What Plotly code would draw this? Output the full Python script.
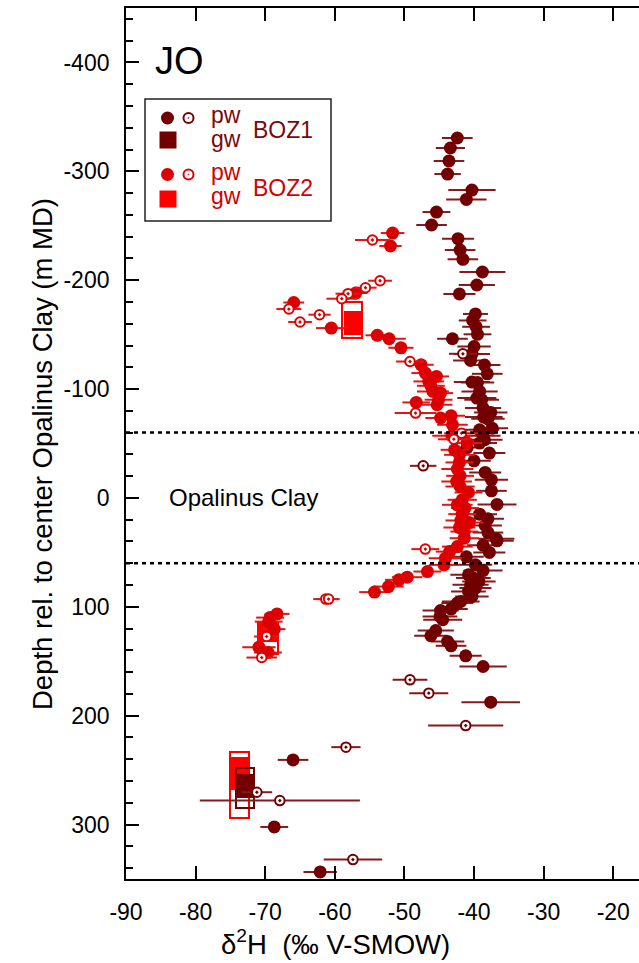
import plotly.graph_objects as go

# ---------------- data ----------------
# BOZ1 porewater (filled)
boz1_pw_x = [-42.4, -43.4, -43.6, -43.8, -40.3, -41.1, -45.4, -46.1, -42.3, -42.0, -41.6, -38.8, -39.6, -42.1,
             -39.8, -40.2, -39.7, -39.5, -43.1, -40.0, -40.3, -40.5, -38.5, -38.1, -40.3, -39.5, -39.2, -39.6,
             -38.9, -38.7, -37.6, -38.6, -38.0, -37.4, -39.2, -38.7, -38.5, -39.2, -41.0, -37.8, -40.0, -38.4,
             -37.5, -37.5, -36.7, -39.2, -38.0, -38.4, -38.0, -36.8, -38.7, -36.7, -37.8, -41.1, -39.8, -38.7,
             -40.8, -40.1, -39.3, -40.5, -39.8, -40.8, -40.3, -41.9, -42.4, -43.3, -44.8, -44.9, -44.5, -45.5,
             -46.2, -43.8, -43.3, -41.2, -38.7, -37.6, -66.0, -68.7, -62.1]
boz1_pw_d = [-330.6, -321.4, -309.5, -297.5, -282.8, -274.2, -262.6, -250.7, -238.1, -227.7, -219.2, -207.5, -195.6,
             -187.4, -169.0, -163.0, -157.2, -150.3, -146.2, -139.1, -132.1, -126.3, -122.0, -114.0, -106.4, -106.0,
             -97.8, -91.7, -90.2, -82.5, -78.5, -74.3, -72.7, -64.1, -62.6, -57.1, -53.4, -50.4, -46.3, -41.2, -34.1,
             -23.4, -16.6, -6.5, 6.0, 14.9, 19.2, 25.3, 31.8, 37.6, 43.5, 39.4, 50.0, 54.1, 61.4, 66.7, 70.6, 73.6,
             76.7, 79.8, 82.8, 85.9, 90.5, 95.1, 96.6, 102.1, 103.4, 108.9, 111.9, 121.8, 126.6, 131.8, 135.8, 145.0,
             154.8, 187.6, 240.6, 302.2, 343.5]
boz1_pw_err = [2.2, 2.1, 2.2, 1.9, 3.4, 2.9, 2.0, 2.2, 2.3, 2.2, 2.2, 3.3, 2.6, 2.3, 1.8, 2.0, 2.0, 2.0, 2.2, 2.4,
               2.6, 2.5, 2.3, 2.2, 2.6, 2.4, 2.6, 2.8, 2.5, 2.6, 2.4, 2.7, 2.4, 2.3, 2.8, 2.5, 2.6, 2.5, 2.4, 2.3,
               2.4, 2.3, 2.4, 2.2, 2.8, 2.5, 2.3, 2.4, 2.2, 2.6, 2.3, 2.4, 2.3, 2.5, 2.4, 2.8, 2.6, 2.5, 2.4, 2.6,
               2.3, 2.5, 2.4, 2.7, 2.3, 2.4, 2.6, 2.5, 2.8, 2.6, 2.4, 2.4, 2.2, 2.3, 3.4, 4.2, 2.2, 2.0, 2.4]

# BOZ1 porewater (open symbols)
boz1_pwo_x = [-41.6, -47.3, -49.2, -46.5, -41.2, -58.4, -71.2, -67.9, -57.4]
boz1_pwo_d = [-132.4, -29.5, 167.1, 179.3, 209.1, 228.9, 270.3, 278.0, 332.2]
boz1_pwo_err = [2.0, 1.9, 2.5, 2.8, 5.4, 2.1, 2.2, 11.5, 4.2]

# BOZ2 porewater (filled)
boz2_pw_x = [-51.7, -52.0, -57.0, -65.9, -60.5, -53.9, -52.2, -50.5, -47.6, -47.0, -45.4, -46.5, -46.2, -45.9,
             -44.8, -45.1, -45.3, -48.3, -44.8, -43.3, -43.1, -43.2, -41.0, -42.8, -42.1, -42.1, -42.4, -42.0,
             -42.5, -42.0, -40.8, -41.7, -42.4, -41.3, -41.7, -41.9, -40.7, -42.1, -41.4, -41.4, -42.4, -43.5,
             -44.1, -44.3, -46.7, -49.6, -50.8, -52.3, -54.3, -68.3, -69.3, -69.5, -68.7, -70.9, -69.6]
boz2_pw_d = [-243.3, -231.4, -188.2, -179.5, -156.0, -149.4, -146.2, -137.9, -122.3, -114.7, -111.6, -107.0, -103.0,
             -97.8, -96.3, -90.2, -85.6, -87.7, -73.4, -75.5, -67.2, -57.1, -50.4, -44.2, -39.6, -32.6, -26.5,
             -20.3, -15.1, -10.5, -5.0, 1.7, 6.3, 9.3, 14.9, 20.7, 22.6, 27.2, 30.9, 37.0, 44.7, 49.3, 55.3, 61.5,
             67.6, 72.8, 75.2, 81.4, 86.5, 106.5, 109.9, 113.6, 120.5, 137.1, 142.0]
boz2_pw_err = [1.7, 1.6, 1.7, 1.5, 2.2, 1.7, 2.4, 1.8, 1.8, 2.0, 1.8, 2.2, 2.0, 2.3, 1.8, 2.0, 2.2, 2.0, 2.2, 2.0,
               2.2, 2.8, 2.2, 2.0, 2.2, 2.0, 2.3, 2.0, 2.2, 2.1, 2.0, 2.1, 2.2, 2.0, 2.0, 2.2, 2.0, 2.3, 2.0, 2.1,
               2.2, 2.0, 2.4, 2.2, 2.0, 2.2, 2.0, 2.2, 2.2, 1.8, 2.0, 2.0, 1.6, 2.4, 2.0]

# BOZ2 porewater (open symbols)
boz2_pwo_x = [-54.6, -53.5, -55.6, -58.1, -59.0, -66.6, -62.2, -65.0, -49.2, -48.4, -41.8, -42.9, -47.0, -61.3,
              -60.9, -69.8, -70.5]
boz2_pwo_d = [-236.9, -199.5, -193.1, -187.6, -183.0, -173.5, -168.3, -161.6, -125.3, -77.9, -59.5, -54.0, 47.0,
              92.9, 92.9, 127.3, 146.6]
boz2_pwo_err = [2.5, 1.7, 1.6, 1.8, 2.2, 1.8, 1.6, 1.7, 2.0, 3.0, 2.5, 2.3, 2.0, 1.8, 1.6, 1.8, 2.2]

# groundwater samples: x value, depth interval (outline) and depth interval (filled)
boz2_gw_x = [-57.5, -69.6, -73.7]
boz2_gw_top_o = [-180.2, 113.5, 233.4]
boz2_gw_bot_o = [-147.1, 142.9, 294.0]
boz2_gw_top_f = [-171.9, 114.5, 238.0]
boz2_gw_bot_f = [-149.9, 132.0, 268.3]

boz1_gw_x = [-72.9]
boz1_gw_top_o = [248.1]
boz1_gw_bot_o = [284.9]
boz1_gw_top_f = [253.7]
boz1_gw_bot_f = [275.7]

opalinus_bounds = [-60, 60]

x_ticks = [-90, -80, -70, -60, -50, -40, -30, -20]
x_ticklabels = ["-90", "-80", "-70", "-60", "-50", "-40", "-30", "-20"]
y_ticks = [-400, -300, -200, -100, 0, 100, 200, 300]
y_ticklabels = ["-400", "-300", "-200", "-100", "0", "100", "200", "300"]

# ---------------- style ----------------
C1 = "#730000"
C1_ERR = "#86191b"
C1_TXT = "#7a0808"
C2 = "#dc0000"
C2_ERR = "#e31515"
C2_SQ = "#ff0000"
C2_TXT = "#d20000"
FONT = "Liberation Sans, Arial, Helvetica, sans-serif"

W, H = 639, 963
ML, MR, MT, MB = 126, 0, 8, 84
PW, PH = W - ML - MR, H - MT - MB


def pxx(x):
    return (x - ML) / PW


def pxy(y):
    return (H - MB - y) / PH


fig = go.Figure()


def add_gw(xs, top_o, bot_o, top_f, bot_f, col, width):
    fig.add_trace(go.Bar(
        x=xs, base=top_o, y=[b - t for t, b in zip(top_o, bot_o)], width=[width] * len(xs),
        marker=dict(color="rgba(0,0,0,0)", line=dict(color=col, width=2)), showlegend=False,
        hoverinfo="skip"))
    fig.add_trace(go.Bar(
        x=xs, base=top_f, y=[b - t for t, b in zip(top_f, bot_f)], width=[width - 0.3] * len(xs),
        marker=dict(color=col, line=dict(width=0)), showlegend=False, hoverinfo="skip"))


add_gw(boz2_gw_x, boz2_gw_top_o, boz2_gw_bot_o, boz2_gw_top_f, boz2_gw_bot_f, C2_SQ, 2.8)
add_gw(boz1_gw_x, boz1_gw_top_o, boz1_gw_bot_o, boz1_gw_top_f, boz1_gw_bot_f, C1, 2.55)


def add_pw(xs, ds, errs, col, ecol, open_sym):
    if open_sym:
        marker = dict(symbol="circle-dot", size=9.5, color="white", line=dict(color=col, width=2))
    else:
        marker = dict(symbol="circle", size=13, color=col, line=dict(width=0))
    fig.add_trace(go.Scatter(
        x=xs, y=ds, mode="markers", marker=marker,
        error_x=dict(type="data", array=errs, visible=True, color=ecol, thickness=2, width=0),
        showlegend=False))


add_pw(boz1_pw_x, boz1_pw_d, boz1_pw_err, C1, C1_ERR, False)
add_pw(boz2_pw_x, boz2_pw_d, boz2_pw_err, C2, C2_ERR, False)
add_pw(boz1_pwo_x, boz1_pwo_d, boz1_pwo_err, C1, C1_ERR, True)
add_pw(boz2_pwo_x, boz2_pwo_d, boz2_pwo_err, C2, C2_ERR, True)

shapes = []
for b in opalinus_bounds:
    shapes.append(dict(type="line", xref="paper", x0=0, x1=1, yref="y", y0=b, y1=b,
                       line=dict(color="black", width=2.5, dash="4px,4px"), layer="above"))

# legend box
shapes.append(dict(type="rect", xref="paper", yref="paper", x0=pxx(145), x1=pxx(331), y0=pxy(221), y1=pxy(99),
                   line=dict(color="#222222", width=1.5), fillcolor="white", layer="above"))


def circ(cx, cy, d, fill, line, lw):
    shapes.append(dict(type="circle", xref="paper", yref="paper", xsizemode="pixel", ysizemode="pixel",
                       xanchor=pxx(cx), yanchor=pxy(cy), x0=-d / 2, x1=d / 2, y0=-d / 2, y1=d / 2,
                       fillcolor=fill, line=dict(color=line, width=lw), layer="above"))


def sq(cx, cy, s, fill):
    shapes.append(dict(type="rect", xref="paper", yref="paper", xsizemode="pixel", ysizemode="pixel",
                       xanchor=pxx(cx), yanchor=pxy(cy), x0=-s / 2, x1=s / 2, y0=-s / 2, y1=s / 2,
                       fillcolor=fill, line=dict(width=0), layer="above"))


circ(167.5, 118, 13, C1, C1, 0)
circ(188.5, 118, 10, "white", C1, 2)
circ(188.5, 118, 1.6, C1, C1, 0)
sq(168, 140, 17, C1)
circ(167.5, 174.5, 13, C2, C2, 0)
circ(188.5, 174.5, 10, "white", C2, 2)
circ(188.5, 174.5, 1.6, C2, C2, 0)
sq(168, 199, 17, C2_SQ)

annotations = []


def txt(s, x, y, size, color, xanchor="left", angle=0):
    annotations.append(dict(text=s, xref="paper", yref="paper", x=pxx(x), y=pxy(y), xanchor=xanchor,
                            yanchor="middle", showarrow=False, textangle=angle,
                            font=dict(family=FONT, size=size, color=color)))


txt("pw", 209, 115, 23, C1_TXT)
txt("gw", 209, 139, 23, C1_TXT)
txt("BOZ1", 251, 130, 23, C1_TXT)
txt("pw", 209, 172, 23, C2_TXT)
txt("gw", 209, 196, 23, C2_TXT)
txt("BOZ2", 251, 188, 23, C2_TXT)
txt("JO", 153, 61, 38, "black")
txt("Opalinus Clay", 167, 497, 24, "black")
txt("δ<sup>2</sup>H\u00a0\u00a0(‰ V-SMOW)", 335, 942, 27.5, "black", xanchor="center")
txt("Depth rel. to center Opalinus Clay (m MD)", 42, 454, 27.5, "black", xanchor="center", angle=-90)

fig.update_layout(
    width=W, height=H, margin=dict(l=ML, r=MR, t=MT, b=MB, pad=0),
    plot_bgcolor="white", paper_bgcolor="white",
    barmode="overlay", bargap=0, showlegend=False,
    font=dict(family=FONT, size=23, color="black"),
    shapes=shapes, annotations=annotations,
    xaxis=dict(range=[-90, -16.3], tickvals=x_ticks, ticktext=x_ticklabels, ticks="inside", ticklen=13,
               tickwidth=1.8, tickcolor="black", showline=True, linecolor="black", linewidth=1.8,
               mirror="ticks", showgrid=False, zeroline=False, ticklabelstandoff=11,
               tickfont=dict(family=FONT, size=23, color="black")),
    yaxis=dict(range=[350, -450], tickvals=y_ticks, ticktext=y_ticklabels, ticks="inside", ticklen=13,
               tickwidth=1.8, tickcolor="black", showline=True, linecolor="black", linewidth=1.8,
               mirror=False, showgrid=False, zeroline=False, ticklabelstandoff=10,
               minor=dict(ticks="inside", ticklen=7, dtick=20, tick0=0, tickwidth=1.5, tickcolor="black",
                          showgrid=False),
               tickfont=dict(family=FONT, size=23, color="black")),
    yaxis2=dict(range=[350, -450], overlaying="y", side="right", anchor="x", tickvals=y_ticks,
                showticklabels=False, ticks="inside", ticklen=3, tickwidth=1.8, tickcolor="black",
                showline=False, showgrid=False, zeroline=False),
)

fig.write_html("out.html", config={"displayModeBar": False},
               post_script="document.body.style.margin='0px';document.body.style.overflow='hidden';")
